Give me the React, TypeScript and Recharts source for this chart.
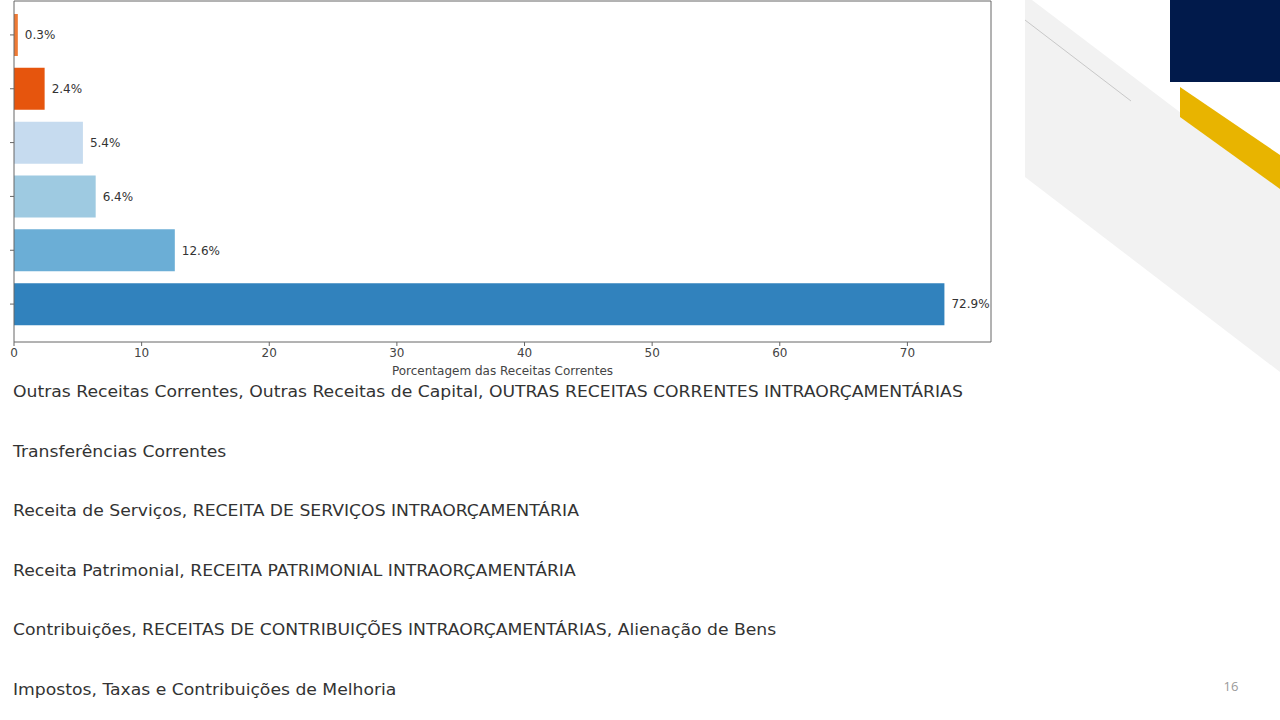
import React from 'react';
import { BarChart, Bar, XAxis, YAxis, Cell, LabelList, CartesianGrid } from 'recharts';

// top to bottom, as in the slide
const categories = [
  'Outras Receitas Correntes, Outras Receitas de Capital, OUTRAS RECEITAS CORRENTES INTRAORÇAMENTÁRIAS',
  'Transferências Correntes',
  'Receita de Serviços, RECEITA DE SERVIÇOS INTRAORÇAMENTÁRIA',
  'Receita Patrimonial, RECEITA PATRIMONIAL INTRAORÇAMENTÁRIA',
  'Contribuições, RECEITAS DE CONTRIBUIÇÕES INTRAORÇAMENTÁRIAS, Alienação de Bens',
  'Impostos, Taxas e Contribuições de Melhoria',
];
const shares = [0.3, 2.4, 5.4, 6.4, 12.6, 72.9];
const barColors = ['#ee7a35', '#e6550d', '#c6dbef', '#9ecae1', '#6baed6', '#3182bd'];
const xTicks = [0, 10, 20, 30, 40, 50, 60, 70];
const xMax = 76.55;

const data = categories.map((name, i) => ({ name, value: shares[i] }));

const font = '"DejaVu Sans", sans-serif';

export default function App() {
  return (
    <div style={{ position: 'absolute', left: 0, top: 0, width: 1280, height: 720, background: '#fff', overflow: 'hidden' }}>
      {/* slide decoration */}
      <svg width={1280} height={720} style={{ position: 'absolute', left: 0, top: 0 }}>
        <polygon points="1025,0 1032,0 1280,188 1280,372 1025,177" fill="#f2f2f2" />
        <line x1={1025} y1={20} x2={1131} y2={101} stroke="#c8c8c8" strokeWidth={1} />
        <polygon points="1180,87 1280,155 1280,189 1180,117" fill="#e8b400" />
        <rect x={1170} y={0} width={110} height={82} fill="#011a4b" />
        <text x={1231} y={691} fontFamily='"Open Sans", sans-serif' fontSize={13} fill="#9a9a9a" textAnchor="middle">16</text>
      </svg>

      <div style={{ position: 'absolute', left: 0, top: 0 }}>
        <BarChart
          width={1280}
          height={380}
          data={data}
          layout="vertical"
          margin={{ top: 1, right: 289, bottom: 0, left: 0 }}
        >
          {/* top and right spines of the frame */}
          <CartesianGrid
            stroke="#666"
            strokeWidth={1}
            horizontalCoordinatesGenerator={({ offset }: any) => [offset.top]}
            verticalCoordinatesGenerator={({ offset }: any) => [offset.left + offset.width]}
          />
          <XAxis
            type="number"
            domain={[0, xMax]}
            ticks={xTicks}
            allowDataOverflow
            stroke="#666"
            tickSize={4}
            tick={{ fill: '#444', fontSize: 12, fontFamily: font }}
            height={38}
            label={{ value: 'Porcentagem das Receitas Correntes', position: 'insideBottom', offset: 5, fill: '#444', fontSize: 12, fontFamily: font }}
          />
          <YAxis
            type="category"
            dataKey="name"
            width={14}
            stroke="#666"
            tickSize={4}
            tickFormatter={() => ''}
            padding={{ top: 7, bottom: 11 }}
          />
          <Bar dataKey="value" barSize={42} isAnimationActive={false}>
            {data.map((d, i) => (
              <Cell key={d.name} fill={barColors[i]} />
            ))}
            <LabelList
              dataKey="value"
              position="right"
              offset={7}
              formatter={(v: number) => `${v}%`}
              style={{ fill: '#333', fontSize: 12, fontFamily: font }}
            />
          </Bar>
        </BarChart>
      </div>

      {categories.map((c, i) => (
        <div
          key={c}
          style={{
            position: 'absolute',
            left: 13,
            top: 382 + i * 59.5,
            fontFamily: font,
            fontSize: 16,
            color: '#333',
            whiteSpace: 'nowrap',
            transform: 'scaleX(1.075)',
            transformOrigin: 'left center',
          }}
        >
          {c}
        </div>
      ))}
    </div>
  );
}
